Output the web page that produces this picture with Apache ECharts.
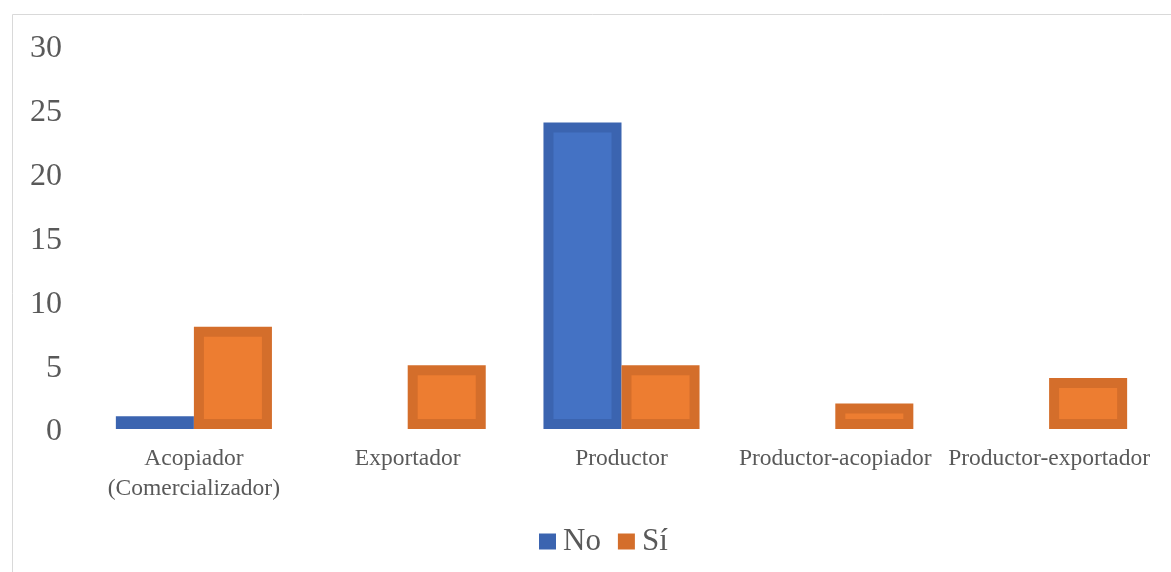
<!DOCTYPE html>
<html>
<head>
<meta charset="utf-8">
<script src="https://cdn.jsdelivr.net/npm/echarts@6/dist/echarts.min.js"></script>
<style>
  html, body { margin: 0; padding: 0; background: #fff; }
  #chart { width: 1171px; height: 572px; }
</style>
</head>
<body>
<div id="chart"></div>
<script>
var categories = ['Acopiador\n(Comercializador)', 'Exportador', 'Productor', 'Productor-acopiador', 'Productor-exportador'];
var noValues = [1, 0, 24, 0, 0];
var siValues = [8, 5, 5, 2, 4];
var yTicks = [0, 5, 10, 15, 20, 25, 30];

var serif = "'Liberation Serif', 'Times New Roman', serif";
var chart = echarts.init(document.getElementById('chart'));

// Excel style bars: the darker edge sits inside the bar
function makeRender(side, edge, fill) {
  return function (params, api) {
    var cat = api.value(0), v = api.value(1);
    if (!v) return;
    var base = api.coord([cat, 0]);
    var top = api.coord([cat, v]);
    var w = api.size([1, 0])[0] * 0.365;
    var x = side < 0 ? base[0] - w : base[0];
    var h = base[1] - top[1];
    var b = 10;
    var children = [{
      type: 'rect',
      shape: { x: x, y: top[1], width: w, height: h },
      style: { fill: edge }
    }];
    if (h - 2 * b > 0) {
      children.push({
        type: 'rect',
        shape: { x: x + b, y: top[1] + b, width: w - 2 * b, height: h - 2 * b },
        style: { fill: fill }
      });
    }
    return { type: 'group', children: children };
  };
}

var option = {
  animation: false,
  graphic: [{
    type: 'rect',
    z: -10,
    shape: { x: 12.5, y: 14.5, width: 1200, height: 600 },
    style: { fill: 'none', stroke: '#d9d9d9', lineWidth: 1 }
  }],
  legend: {
    top: 526,
    left: 539,
    icon: 'rect',
    itemWidth: 17,
    itemHeight: 16,
    itemGap: 17,
    padding: 0,
    textStyle: { fontFamily: serif, fontSize: 31, color: '#595959', padding: [0, 0, 0, 2] },
    data: ['No', 'Sí']
  },
  grid: { left: 87, right: 15, top: 46, bottom: 143 },
  xAxis: {
    type: 'category',
    data: categories,
    axisLine: { show: false },
    axisTick: { show: false },
    axisLabel: {
      interval: 0,
      margin: 15,
      fontFamily: serif,
      fontSize: 23.5,
      lineHeight: 30,
      color: '#595959',
      verticalAlign: 'top'
    }
  },
  yAxis: {
    type: 'value',
    min: yTicks[0],
    max: yTicks[yTicks.length - 1],
    interval: 5,
    splitLine: { show: false },
    axisLine: { show: false },
    axisTick: { show: false },
    axisLabel: {
      align: 'right',
      margin: 25,
      formatter: '{v|{value}}',
      rich: {
        v: { fontFamily: serif, fontSize: 32, color: '#595959', padding: [6, 0, 0, 0] }
      }
    }
  },
  series: [
    {
      name: 'No',
      type: 'custom',
      itemStyle: { color: '#3B64B0' },
      encode: { x: 0, y: 1 },
      renderItem: makeRender(-1, '#3B64B0', '#4472C4'),
      data: noValues.map(function (v, i) { return [i, v]; })
    },
    {
      name: 'Sí',
      type: 'custom',
      itemStyle: { color: '#D46E2B' },
      encode: { x: 0, y: 1 },
      renderItem: makeRender(1, '#D46E2B', '#ED7D31'),
      data: siValues.map(function (v, i) { return [i, v]; })
    }
  ]
};

chart.setOption(option);
</script>
</body>
</html>
